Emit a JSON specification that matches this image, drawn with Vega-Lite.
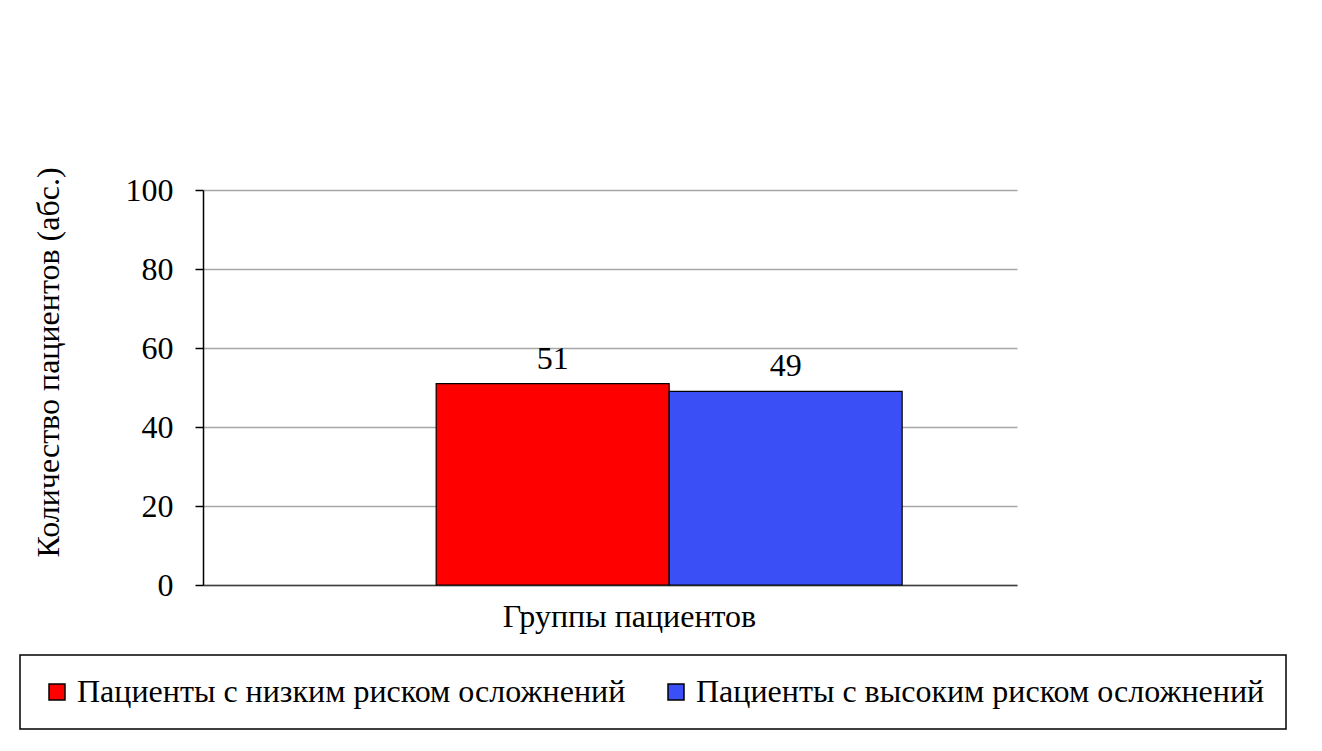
{
  "$schema": "https://vega.github.io/schema/vega-lite/v6.json",
  "autosize": {"type": "none"},
  "padding": {"left": 203, "top": 190, "right": 305, "bottom": 166},
  "width": 814,
  "height": 395,
  "background": "white",
  "data": {
    "values": [
      {"group": "Группы пациентов", "series": "Пациенты с низким риском осложнений", "value": 51},
      {"group": "Группы пациентов", "series": "Пациенты с высоким риском осложнений", "value": 49}
    ]
  },
  "encoding": {
    "x": {
      "field": "group",
      "type": "nominal",
      "scale": {"paddingInner": 0, "paddingOuter": 0.3734, "align": 0.67},
      "axis": {
        "title": "Группы пациентов",
        "labels": false,
        "ticks": false,
        "domainColor": "#404040",
        "domainWidth": 1.5,
        "titleFont": "Liberation Serif",
        "titleFontSize": 32,
        "titleFontWeight": "normal",
        "titleColor": "black",
        "titlePadding": 16,
        "titleX": 426
      }
    },
    "xOffset": {
      "field": "series",
      "type": "nominal",
      "sort": ["Пациенты с низким риском осложнений", "Пациенты с высоким риском осложнений"],
      "scale": {"paddingInner": 0, "paddingOuter": 0}
    },
    "y": {
      "field": "value",
      "type": "quantitative",
      "scale": {"domain": [0, 100]},
      "axis": {
        "title": "Количество пациентов (абс.)",
        "values": [0, 20, 40, 60, 80, 100],
        "domainColor": "black",
        "domainWidth": 1.5,
        "tickColor": "black",
        "tickWidth": 1.5,
        "tickSize": 8,
        "labelPadding": 22,
        "labelFont": "Liberation Serif",
        "labelFontSize": 32,
        "labelColor": "black",
        "grid": true,
        "gridColor": "#A6A6A6",
        "gridWidth": 1.5,
        "titleFont": "Liberation Serif",
        "titleFontSize": 32,
        "titleFontWeight": "normal",
        "titleColor": "black",
        "titlePadding": 60,
        "titleY": 172
      }
    }
  },
  "layer": [
    {
      "mark": {"type": "bar", "stroke": "black", "strokeWidth": 1.2},
      "encoding": {
        "color": {
          "field": "series",
          "type": "nominal",
          "sort": ["Пациенты с низким риском осложнений", "Пациенты с высоким риском осложнений"],
          "scale": {
            "domain": ["Пациенты с низким риском осложнений", "Пациенты с высоким риском осложнений"],
            "range": ["#FF0000", "#3A4FF5"]
          },
          "legend": {
            "title": null,
            "orient": "none",
            "legendX": -183,
            "legendY": 465,
            "direction": "horizontal",
            "symbolType": "square",
            "symbolSize": 256,
            "symbolStrokeColor": "black",
            "symbolStrokeWidth": 1.5,
            "symbolOpacity": 1,
            "labelFont": "Liberation Serif",
            "labelFontSize": 32,
            "labelColor": "black",
            "labelOffset": 4,
            "labelLimit": 800,
            "columnPadding": 34,
            "padding": 21,
            "strokeColor": "black",
            "fillColor": "white"
          }
        }
      }
    },
    {
      "mark": {
        "type": "text",
        "baseline": "bottom",
        "dy": -8,
        "font": "Liberation Serif",
        "fontSize": 32,
        "color": "black"
      },
      "encoding": {
        "text": {"field": "value", "type": "quantitative"}
      }
    }
  ],
  "config": {
    "view": {"stroke": null},
    "legend": {"strokeWidth": 1.5}
  }
}
